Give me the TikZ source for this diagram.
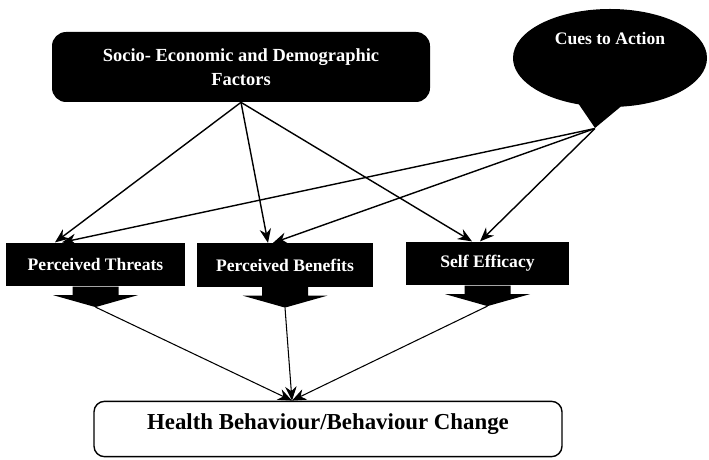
\documentclass[tikz,border=0pt]{standalone}
\usepackage{fontspec}
\setmainfont{Liberation Serif}
\usetikzlibrary{shapes.callouts,arrows.meta}

\begin{document}
\begin{tikzpicture}[
        factor/.style={fill=black, text=white, font=\bfseries\fontsize{10}{12}\selectfont, minimum height=0.87cm, inner sep=0pt},
        link/.style={thick, -{Stealth[length=8pt,width=6.5pt]}}
    ]
    \useasboundingbox (0,0) rectangle (14.18,9.18);
    \node[fill=black, text=white, rounded corners=8pt, align=center, font=\bfseries\fontsize{10.5}{14}\selectfont, minimum width=7.56cm, minimum height=1.4cm] (socio) at (4.82,7.84) {Socio- Economic and Demographic\\Factors};
    \node[ellipse callout, fill=black, minimum width=3.88cm, minimum height=1.96cm, callout pointer arc=25, callout absolute pointer={(11.9,6.62)}] (cues) at (12.2,8.02) {};
    \node[text=white, font=\bfseries\fontsize{10}{12}\selectfont, anchor=base] (cuestext) at (12.2,8.28) {Cues to Action};
    \node[factor, minimum width=3.58cm] (threats) at (1.91,3.89) {Perceived Threats};
    \node[factor, minimum width=3.52cm] (benefits) at (5.7,3.88) {Perceived Benefits};
    \node[factor, minimum width=3.26cm] (efficacy) at (9.75,3.91) {Self Efficacy};
    \node[draw, thick, rounded corners=6pt, font=\bfseries\fontsize{13}{15}\selectfont, minimum width=9.36cm, inner sep=0pt, text height=16pt, text depth=15.5pt] (health) at (6.56,0.6) {Health Behaviour/Behaviour Change};
    % block arrows under the three perceptions
    \foreach \b in {threats,benefits,efficacy}
        \fill ([xshift=-0.46cm]\b.south) -- ++(0,-0.17) -- ++(-0.39,0) -- ([yshift=-0.41cm]\b.south) coordinate (\b-tip) -- ([xshift=0.85cm,yshift=-0.17cm]\b.south) -- ++(-0.39,0) -- ([xshift=0.46cm]\b.south) -- cycle;
    \draw[link] (socio.south) -- ([xshift=-0.81cm]threats.north);
    \draw[link] (socio.south) -- ([xshift=-0.34cm]benefits.north);
    \draw[link] (socio.south) -- ([xshift=-0.31cm]efficacy.north);
    \draw[link] (cues.pointer) -- ([xshift=-0.67cm]threats.north);
    \draw[link] (cues.pointer) -- ([xshift=-0.24cm]benefits.north);
    \draw[link] (cues.pointer) -- ([xshift=-0.15cm]efficacy.north);
    \foreach \b in {threats,benefits,efficacy}
        \draw[link, semithick] (\b-tip) -- ([xshift=-0.72cm]health.north);
\end{tikzpicture}
\end{document}
